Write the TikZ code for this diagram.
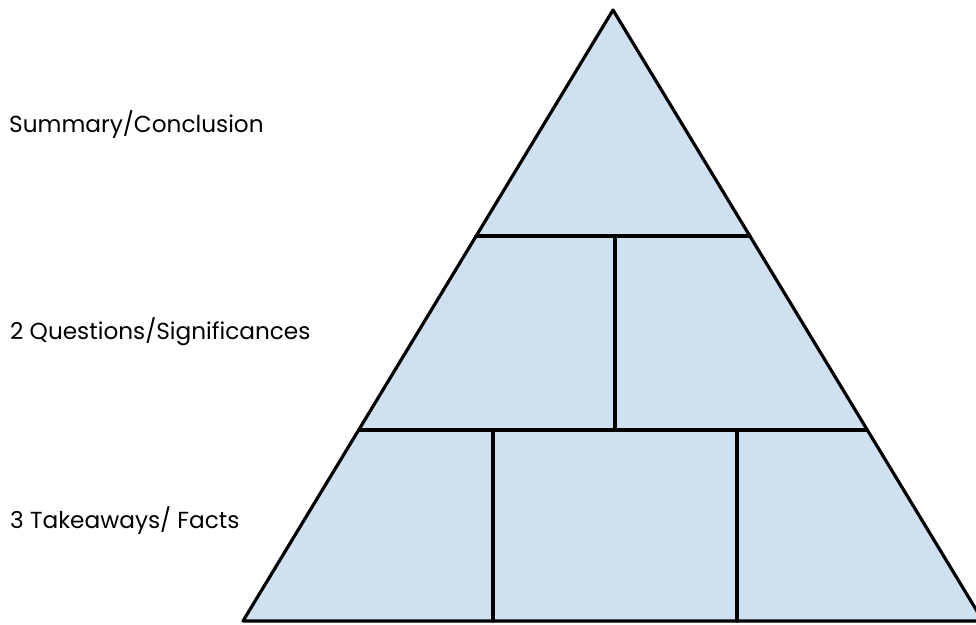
\documentclass[tikz,border=0pt]{standalone}
\usepackage{fontspec}
\setmainfont{Poppins}
\definecolor{pyrfill}{RGB}{207,224,241}
\begin{document}
\begin{tikzpicture}[x=1pt,y=-1pt,
  edge/.style={line width=3.2pt,black,line cap=round,line join=round},
  lbl/.style={anchor=base west,inner sep=0pt,font=\fontsize{23.2}{26}\selectfont,text=black}]
\useasboundingbox (0,0) rectangle (976,624);
\clip (0,0) rectangle (976,624);
\coordinate (apex) at (613,10);
\coordinate (bl) at (243,621);
\coordinate (br) at (983,621);
\coordinate (l1) at (476,236);
\coordinate (r1) at (750,236);
\coordinate (l2) at (359,430);
\coordinate (r2) at (867,430);
\coordinate (m1t) at (615,236);
\coordinate (m1b) at (615,430);
\coordinate (b1t) at (493,430);
\coordinate (b1b) at (493,621);
\coordinate (b2t) at (737,430);
\coordinate (b2b) at (737,621);
\fill[pyrfill] (apex) -- (br) -- (bl) -- cycle;
\draw[edge] (apex) -- (br) -- (bl) -- cycle;
\draw[edge] (l1) -- (r1);
\draw[edge] (l2) -- (r2);
\draw[edge] (m1t) -- (m1b);
\draw[edge] (b1t) -- (b1b);
\draw[edge] (b2t) -- (b2b);
\node[lbl] (t1) at (9,132) {Summary/Conclusion};
\node[lbl] (t2) at (10,339) {2 Questions/Significances};
\node[lbl] (t3) at (10,528) {3 Takeaways/ Facts};
\end{tikzpicture}
\end{document}
